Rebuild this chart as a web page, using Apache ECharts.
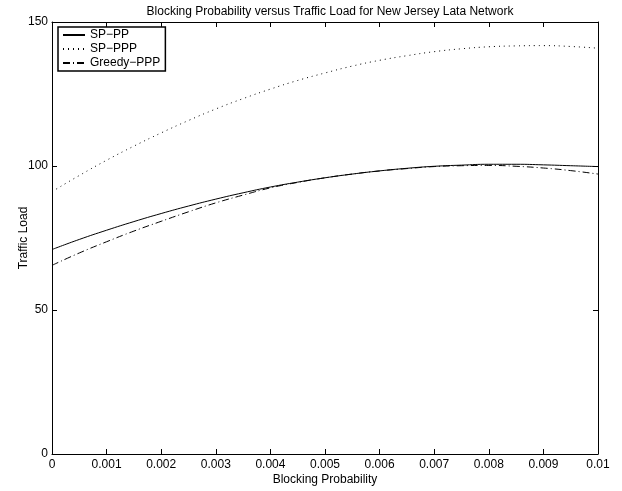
<!DOCTYPE html>
<html>
<head>
<meta charset="utf-8">
<script src="https://cdn.jsdelivr.net/npm/echarts@6/dist/echarts.min.js"></script>
<style>
html,body{margin:0;padding:0;background:#fff;}
#chart{width:622px;height:491px;}
</style>
</head>
<body>
<div id="chart"></div>
<script>
var xValues = [0,0.0005,0.001,0.0015,0.002,0.0025,0.003,0.0035,0.004,0.0045,0.005,0.0055,0.006,0.0065,0.007,0.0075,0.008,0.0085,0.009,0.0095,0.01];
var spPP = [71.0,74.5,77.7,80.7,83.5,86.1,88.5,90.7,92.7,94.4,95.9,97.2,98.3,99.2,99.9,100.3,100.6,100.6,100.4,100.1,99.8];
var spPPP = [91.1,96.7,102.0,106.9,111.5,115.8,119.8,123.4,126.7,129.7,132.3,134.7,136.7,138.3,139.7,140.7,141.4,141.7,141.8,141.5,140.9];
var greedyPPP = [65.5,69.8,73.7,77.4,80.8,84.1,87.2,89.9,92.4,94.3,95.9,97.2,98.3,99.1,99.8,100.1,100.2,99.9,99.3,98.4,97.2];
var seriesNames = ['SP\u2212PP','SP\u2212PPP','Greedy\u2212PPP'];
var titleText = 'Blocking Probability versus Traffic Load for New Jersey Lata Network';
var xName = 'Blocking Probability';
var yName = 'Traffic Load';

function pairs(ys){ return xValues.map(function(x,i){ return [x, ys[i]]; }); }

var font = 'Liberation Sans, Arial, Helvetica, sans-serif';
var chart = echarts.init(document.getElementById('chart'), null, {renderer:'canvas'});
function axLine(){ return {show:true,onZero:false,lineStyle:{color:'#000',width:1}}; }
function axTick(){ return {show:true,inside:true,length:5,lineStyle:{color:'#000',width:1}}; }
chart.setOption({
  animation:false,
  backgroundColor:'#fff',
  title:{text:titleText,left:325,textAlign:'center',top:1,textStyle:{fontFamily:font,fontSize:12,fontWeight:'normal',color:'#000'}},
  legend:{
    orient:'vertical',left:58,top:27,
    data:seriesNames,
    borderColor:'#000',borderWidth:1.5,
    padding:[2,5,2,4],itemGap:2,itemWidth:22,itemHeight:12,
    itemStyle:{opacity:0},
    textStyle:{fontFamily:font,fontSize:12,color:'#000'}
  },
  grid:{left:52,right:24,top:22,bottom:37,containLabel:false,outerBoundsMode:'none'},
  xAxis:[
    {type:'value',min:0,max:0.01,interval:0.001,
      name:xName,nameLocation:'middle',nameGap:20,nameMoveOverlap:false,
      nameTextStyle:{fontFamily:font,fontSize:12,color:'#000'},
      axisLine:axLine(),axisTick:axTick(),splitLine:{show:false},
      axisLabel:{fontFamily:font,fontSize:12,color:'#000',margin:5,
        formatter:function(v){return String(parseFloat(v.toFixed(4)));}}
    },
    {type:'value',min:0,max:0.01,interval:0.001,position:'top',
      axisLine:axLine(),axisTick:axTick(),splitLine:{show:false},axisLabel:{show:false}}
  ],
  yAxis:[
    {type:'value',min:0,max:150,interval:50,
      name:yName,nameLocation:'middle',nameGap:22,nameMoveOverlap:false,
      nameTextStyle:{fontFamily:font,fontSize:12,color:'#000'},
      axisLine:axLine(),axisTick:axTick(),splitLine:{show:false},
      axisLabel:{fontFamily:font,fontSize:12,color:'#000',margin:4}
    },
    {type:'value',min:0,max:150,interval:50,position:'right',
      axisLine:axLine(),axisTick:axTick(),splitLine:{show:false},axisLabel:{show:false}}
  ],
  series:[
    {name:seriesNames[0],type:'line',data:pairs(spPP),symbol:'none',smooth:true,
      lineStyle:{color:'#000',width:1,type:'solid'},itemStyle:{color:'#000'}},
    {name:seriesNames[1],type:'line',data:pairs(spPPP),symbol:'none',smooth:true,
      lineStyle:{color:'#000',width:1,type:[1,4]},itemStyle:{color:'#000'}},
    {name:seriesNames[2],type:'line',data:pairs(greedyPPP),symbol:'none',smooth:true,
      lineStyle:{color:'#000',width:1,type:[7,3,1,3]},itemStyle:{color:'#000'}}
  ]
});
</script>
</body>
</html>
